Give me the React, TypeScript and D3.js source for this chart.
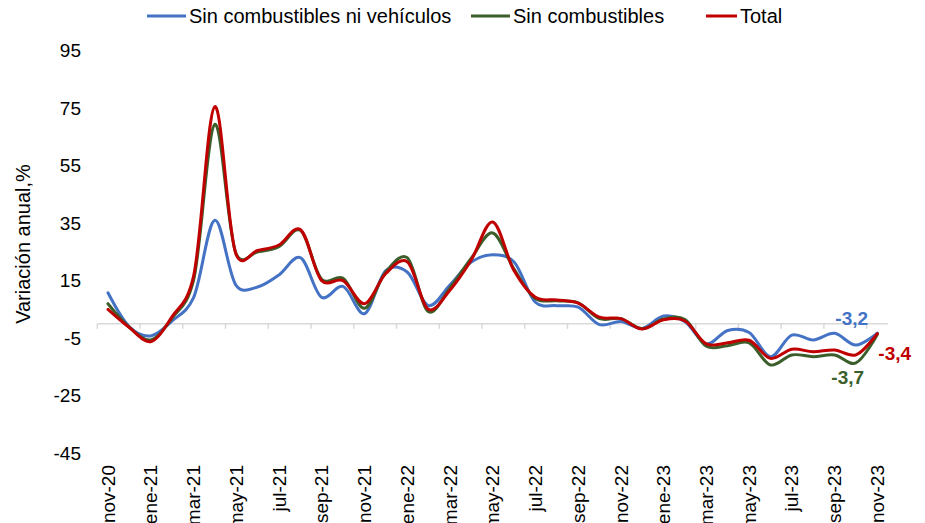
import React from "react";
import * as d3 from "d3";

const months = ["nov-20","dic-20","ene-21","feb-21","mar-21","abr-21","may-21","jun-21","jul-21","ago-21","sep-21","oct-21","nov-21","dic-21","ene-22","feb-22","mar-22","abr-22","may-22","jun-22","jul-22","ago-22","sep-22","oct-22","nov-22","dic-22","ene-23","feb-23","mar-23","abr-23","may-23","jun-23","jul-23","ago-23","sep-23","oct-23","nov-23"];

const sinCombNiVeh = [10.8,-1.0,-4.2,1.0,9.0,36.0,13.3,12.8,17.0,23.0,9.2,13.0,3.5,18.5,18.0,6.3,13.5,21.5,24.0,21.5,7.5,6.3,5.8,-0.3,0.8,-1.6,2.7,0.7,-7.0,-2.3,-3.0,-11.4,-3.9,-5.6,-3.3,-7.4,-3.2];
const sinComb = [7.0,-1.2,-5.6,2.0,15.0,69.3,24.3,25.0,26.8,32.5,15.5,15.8,5.4,18.0,23.0,4.2,12.5,22.8,31.6,19.0,8.8,8.0,7.3,1.8,1.8,-1.7,1.7,1.5,-7.8,-7.6,-6.6,-14.3,-10.8,-11.4,-10.8,-13.6,-3.7];
const total = [5.0,-1.3,-6.2,2.5,16.4,75.5,24.0,25.5,27.4,32.8,15.0,15.0,7.0,17.5,21.6,5.0,11.7,22.2,35.4,18.5,9.2,8.3,7.2,2.3,1.8,-1.8,1.4,1.0,-7.0,-6.6,-5.7,-12.0,-8.8,-9.7,-9.1,-10.8,-3.4];

const yTicks = [95, 75, 55, 35, 15, -5, -25, -45];

const seriesNames = ["Sin combustibles ni vehículos", "Sin combustibles", "Total"];
const seriesColors = ["#4472C4", "#3B5E2B", "#C00000"];
const seriesData = [sinCombNiVeh, sinComb, total];
const endLabels = ["-3,2", "-3,7", "-3,4"];

const W = 925, H = 523;
const FONT = "'Liberation Sans', Arial, sans-serif";

export default function App() {
  const x = d3.scaleBand<string>().domain(months).range([97.3, 888]).paddingInner(0).paddingOuter(0);
  const cx = (i: number) => (x(months[i]) as number) + x.bandwidth() / 2;
  const y = d3.scaleLinear().domain([-45, 95]).range([453.3, 50.5]);

  const line = d3.line<number>()
    .x((_, i) => cx(i))
    .y((d) => y(d))
    .curve(d3.curveCatmullRom.alpha(0.15));

  const y0 = y(0);
  const tickIdx = months.map((_, i) => i).filter((i) => i % 2 === 0);

  const legendItems = [
    { x1: 147, tx: 189 },
    { x1: 471, tx: 513 },
    { x1: 706, tx: 740 },
  ];

  const endLabelPos = [
    { dx: -42, dy: -8 },
    { dx: -46, dy: 50 },
    { dx: 1, dy: 26 },
  ];
  const last = months.length - 1;

  return (
    <svg width={W} height={H} style={{ position: "absolute", left: 0, top: 0, background: "#fff" }} fontFamily={FONT}>
      {seriesNames.map((n, k) => (
        <g key={n}>
          <line x1={legendItems[k].x1} x2={legendItems[k].tx - 3} y1={16} y2={16} stroke={seriesColors[k]} strokeWidth={3} />
          <text x={legendItems[k].tx} y={16} dy="0.35em" fontSize={20} fill="#000">{n}</text>
        </g>
      ))}

      <text transform={`translate(30, 244) rotate(-90)`} textAnchor="middle" fontSize={20} fill="#000">Variación anual,%</text>

      {yTicks.map((t) => (
        <text key={t} x={81} y={y(t)} dy="0.35em" textAnchor="end" fontSize={19} fill="#000">{t}</text>
      ))}

      <line x1={x.range()[0]} x2={x.range()[1]} y1={y0} y2={y0} stroke="#d9d9d9" strokeWidth={1.5} />
      {tickIdx.map((i) => (
        <line key={i} x1={x(months[i]) as number} x2={x(months[i]) as number} y1={y0} y2={y0 + 5} stroke="#d9d9d9" strokeWidth={1.5} />
      ))}
      {tickIdx.map((i) => (
        <text key={"l" + i} transform={`translate(${cx(i)}, 465) rotate(-90)`} dy="0.35em" textAnchor="end" fontSize={19} fill="#000">{months[i]}</text>
      ))}

      {seriesData.map((s, k) => (
        <path key={k} d={line(s) as string} fill="none" stroke={seriesColors[k]} strokeWidth={3} strokeLinejoin="round" strokeLinecap="round" />
      ))}

      {seriesData.map((s, k) => (
        <text key={"e" + k} x={cx(last) + endLabelPos[k].dx} y={y(s[last]) + endLabelPos[k].dy} fontSize={19} fontWeight="bold" fill={seriesColors[k]}>{endLabels[k]}</text>
      ))}
    </svg>
  );
}
